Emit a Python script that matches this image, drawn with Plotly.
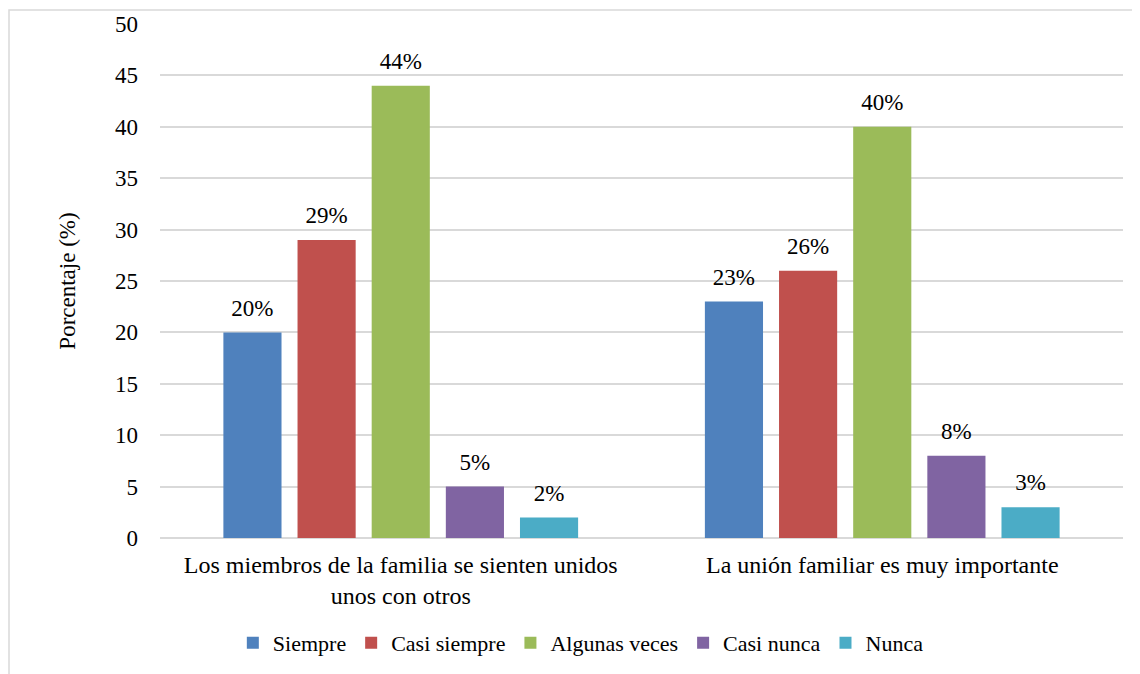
import plotly.graph_objects as go

categories = ["Los miembros de la familia se sienten unidos<br>unos con otros",
              "La unión familiar es muy importante"]
series_names = ["Siempre", "Casi siempre", "Algunas veces", "Casi nunca", "Nunca"]
siempre = [20, 23]
casi_siempre = [29, 26]
algunas_veces = [44, 40]
casi_nunca = [5, 8]
nunca = [2, 3]
y_ticks = [0, 5, 10, 15, 20, 25, 30, 35, 40, 45, 50]

colors = ["#4F81BD", "#C0504D", "#9BBB59", "#8064A2", "#4BACC6"]
values = [siempre, casi_siempre, algunas_veces, casi_nunca, nunca]
serif = "Liberation Serif, Times New Roman, serif"

fig = go.Figure()
for name, vals, color in zip(series_names, values, colors):
    fig.add_trace(go.Bar(
        x=categories, y=vals, name=name,
        marker=dict(color=color, line=dict(width=0)),
    ))

# value labels: grouped scatter traces sit over the bars, the hidden marker lifts the text
for name, vals in zip(series_names, values):
    fig.add_trace(go.Scatter(
        x=categories, y=vals, name=name + " etiqueta", showlegend=False,
        mode="markers+text", text=[f"{v}%" for v in vals], textposition="top center",
        textfont=dict(size=23, color="#000000", family=serif),
        marker=dict(size=16, color="rgba(0,0,0,0)"),
        cliponaxis=False, hoverinfo="skip",
    ))

fig.update_layout(
    width=1140, height=674,
    barmode="group", bargap=0.23, bargroupgap=0.216,
    scattermode="group", scattergap=0.23,
    plot_bgcolor="white", paper_bgcolor="white",
    margin=dict(l=152, r=25, t=16, b=144),
    font=dict(family=serif, size=22, color="#000000"),
    showlegend=True,
    legend=dict(orientation="h", x=0.437, xanchor="center", y=-0.204, yanchor="middle",
                font=dict(size=22, family=serif), itemwidth=30, traceorder="normal"),
    yaxis=dict(range=[0, 50], tickvals=y_ticks, showgrid=True, gridcolor="#D9D9D9",
               gridwidth=1.5, zeroline=True, zerolinecolor="#D9D9D9", zerolinewidth=1.5,
               showline=False, ticklabelstandoff=21, automargin=False,
               tickfont=dict(size=23, family=serif),
               title=dict(text="Porcentaje (%)", font=dict(size=23, family=serif), standoff=32)),
    xaxis=dict(showline=False, showgrid=False, automargin=False,
               tickfont=dict(size=24, family=serif), ticklabelstandoff=10),
    shapes=[dict(type="rect", xref="paper", yref="paper",
                 x0=-0.1568, x1=1.2, y0=-0.6, y1=1.0272,
                 line=dict(color="#D9D9D9", width=1.5), fillcolor="rgba(0,0,0,0)",
                 layer="below")],
)

fig.write_html("out.html")
